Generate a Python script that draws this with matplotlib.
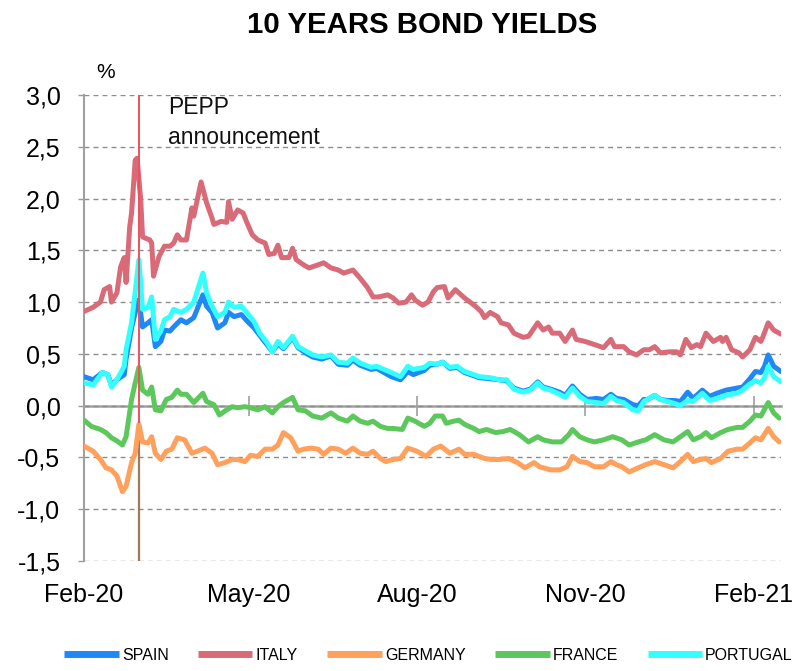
import numpy as np
import matplotlib
matplotlib.use("Agg")
import matplotlib.pyplot as plt
import matplotlib.dates as mdates

# ---------------- data (days since 2020-02-01, yield in %) ----------------
start_date = np.datetime64("2020-02-01")
pepp_day = 30

italy_days = [0, 5, 9, 11, 14, 15, 18, 20, 22, 23, 25, 26, 28, 29, 31, 32, 36, 37, 38, 41,
              44, 47, 49, 51, 53, 56, 59, 60, 64, 67, 70, 71, 75, 78, 79, 81, 84, 87, 89, 92,
              95, 99, 101, 104, 106, 108, 112, 114, 116, 120, 123, 128, 131, 135, 139, 142, 147, 151, 155, 158,
              161, 166, 169, 172, 176, 179, 181, 185, 188, 191, 193, 197, 199, 203, 208, 211, 214, 217, 219, 222,
              226, 228, 232, 235, 240, 243, 248, 251, 254, 256, 260, 263, 267, 269, 274, 279, 284, 288, 290, 295,
              298, 302, 306, 309, 312, 315, 320, 324, 326, 329, 332, 335, 337, 340, 344, 348, 349, 351, 354, 358,
              360, 364, 367, 370, 371, 374, 377, 381]
italy = [0.91, 0.95, 1.00, 1.12, 1.15, 1.00, 1.09, 1.34, 1.43, 1.19, 1.73, 1.86, 2.37, 2.39, 1.99, 1.63, 1.60, 1.57, 1.25, 1.44,
         1.54, 1.54, 1.57, 1.65, 1.60, 1.60, 1.91, 1.83, 2.16, 1.96, 1.81, 1.75, 1.78, 1.77, 1.97, 1.80, 1.89, 1.86, 1.77, 1.65,
         1.60, 1.57, 1.46, 1.47, 1.55, 1.43, 1.43, 1.52, 1.41, 1.36, 1.33, 1.36, 1.38, 1.33, 1.31, 1.28, 1.31, 1.23, 1.14, 1.05,
         1.05, 1.07, 1.04, 0.99, 1.00, 1.07, 1.02, 0.97, 1.00, 1.10, 1.14, 1.15, 1.04, 1.12, 1.04, 1.00, 0.96, 0.91, 0.85, 0.90,
         0.86, 0.80, 0.78, 0.70, 0.66, 0.67, 0.80, 0.73, 0.76, 0.70, 0.70, 0.62, 0.73, 0.64, 0.62, 0.59, 0.56, 0.64, 0.57, 0.57,
         0.52, 0.49, 0.54, 0.54, 0.57, 0.51, 0.52, 0.52, 0.49, 0.64, 0.56, 0.59, 0.57, 0.70, 0.62, 0.66, 0.62, 0.66, 0.54, 0.51,
         0.47, 0.54, 0.66, 0.62, 0.66, 0.80, 0.73, 0.69]

iberia_days = [0, 5, 10, 13, 15, 18, 22, 23, 26, 28, 30, 32, 35, 37, 39, 42, 44, 47, 49, 53,
               56, 60, 65, 67, 70, 73, 77, 79, 82, 86, 89, 93, 96, 100, 103, 106, 109, 114, 117, 122,
               125, 130, 135, 139, 144, 147, 151, 157, 160, 164, 168, 173, 177, 180, 186, 189, 193, 196, 200, 204,
               208, 213, 216, 222, 227, 231, 235, 240, 244, 248, 251, 255, 260, 263, 267, 271, 275, 280, 284, 288,
               291, 295, 300, 303, 306, 308, 312, 315, 319, 323, 326, 330, 333, 338, 342, 346, 351, 357, 360, 364,
               367, 370, 372, 374, 377, 381]
spain = [0.28, 0.25, 0.32, 0.30, 0.20, 0.25, 0.30, 0.45, 0.75, 0.90, 1.02, 0.76, 0.80, 0.83, 0.57, 0.62, 0.73, 0.72, 0.76, 0.83,
         0.80, 0.85, 1.07, 0.96, 0.90, 0.75, 0.80, 0.90, 0.86, 0.88, 0.82, 0.75, 0.68, 0.59, 0.52, 0.60, 0.55, 0.66, 0.56, 0.50,
         0.47, 0.45, 0.48, 0.40, 0.39, 0.44, 0.39, 0.35, 0.36, 0.32, 0.28, 0.25, 0.33, 0.30, 0.34, 0.39, 0.40, 0.42, 0.36, 0.37,
         0.32, 0.29, 0.27, 0.26, 0.25, 0.24, 0.17, 0.14, 0.16, 0.23, 0.18, 0.16, 0.13, 0.10, 0.19, 0.11, 0.06, 0.07, 0.06, 0.11,
         0.07, 0.06, 0.01, 0.00, 0.06, 0.06, 0.10, 0.06, 0.05, 0.05, 0.04, 0.13, 0.07, 0.15, 0.09, 0.12, 0.15, 0.17, 0.18, 0.26,
         0.33, 0.32, 0.38, 0.49, 0.38, 0.33]
portugal = [0.22, 0.20, 0.32, 0.30, 0.18, 0.25, 0.38, 0.54, 0.80, 1.10, 1.41, 0.93, 0.95, 1.05, 0.64, 0.72, 0.83, 0.86, 0.93, 0.90,
            0.93, 1.00, 1.28, 1.09, 0.96, 0.86, 0.90, 1.00, 0.95, 0.96, 0.90, 0.81, 0.70, 0.61, 0.52, 0.62, 0.56, 0.67, 0.57, 0.52,
            0.49, 0.47, 0.49, 0.42, 0.41, 0.46, 0.41, 0.37, 0.38, 0.35, 0.32, 0.28, 0.38, 0.35, 0.37, 0.41, 0.40, 0.42, 0.37, 0.38,
            0.33, 0.30, 0.28, 0.27, 0.25, 0.25, 0.16, 0.13, 0.15, 0.22, 0.17, 0.15, 0.11, 0.08, 0.17, 0.09, 0.04, 0.03, 0.02, 0.09,
            0.05, 0.03, -0.04, -0.05, 0.04, 0.06, 0.10, 0.06, 0.04, 0.02, 0.00, 0.05, 0.04, 0.12, 0.05, 0.07, 0.10, 0.12, 0.15, 0.21,
            0.24, 0.22, 0.27, 0.38, 0.28, 0.23]

france_days = [0, 4, 9, 12, 15, 18, 21, 23, 26, 28, 30, 32, 35, 37, 39, 42, 45, 48, 51, 53,
               56, 60, 65, 67, 71, 74, 78, 81, 84, 88, 91, 95, 99, 103, 106, 109, 114, 117, 121, 125,
               130, 135, 139, 144, 147, 151, 155, 158, 162, 166, 169, 174, 177, 181, 186, 189, 192, 196, 198, 202,
               205, 208, 213, 216, 220, 225, 229, 233, 238, 243, 248, 251, 256, 261, 265, 267, 271, 275, 279, 284,
               289, 294, 298, 303, 307, 312, 317, 322, 326, 330, 333, 337, 340, 343, 348, 352, 357, 360, 364, 367,
               370, 374, 377, 380]
france = [-0.14, -0.20, -0.23, -0.26, -0.31, -0.34, -0.38, -0.30, 0.06, 0.22, 0.37, 0.15, 0.11, 0.18, -0.04, -0.05, 0.06, 0.08, 0.15, 0.11,
          0.11, 0.03, 0.12, 0.04, 0.01, -0.09, -0.04, -0.01, -0.02, -0.01, -0.02, -0.04, -0.01, -0.07, -0.01, 0.03, 0.08, -0.04, -0.05, -0.10,
          -0.12, -0.07, -0.12, -0.15, -0.10, -0.15, -0.17, -0.15, -0.20, -0.22, -0.22, -0.23, -0.12, -0.15, -0.20, -0.17, -0.10, -0.10, -0.17, -0.15,
          -0.14, -0.18, -0.22, -0.25, -0.23, -0.26, -0.25, -0.23, -0.28, -0.35, -0.30, -0.33, -0.35, -0.35, -0.28, -0.23, -0.30, -0.33, -0.35, -0.33,
          -0.30, -0.33, -0.38, -0.35, -0.33, -0.28, -0.33, -0.35, -0.30, -0.25, -0.33, -0.30, -0.26, -0.31, -0.26, -0.23, -0.21, -0.21, -0.15, -0.09,
          -0.10, 0.03, -0.07, -0.12]

germany_days = [0, 5, 9, 12, 15, 18, 21, 23, 26, 28, 30, 32, 35, 37, 39, 42, 45, 48, 51, 55,
                59, 62, 66, 70, 73, 77, 81, 84, 88, 91, 95, 99, 103, 106, 109, 113, 117, 120, 124, 128,
                131, 135, 139, 143, 147, 151, 155, 158, 162, 165, 169, 173, 177, 182, 187, 191, 195, 200, 205, 208,
                213, 219, 223, 227, 232, 237, 241, 246, 249, 255, 260, 264, 267, 271, 275, 279, 284, 288, 291, 294,
                298, 303, 307, 312, 317, 322, 326, 330, 333, 337, 340, 343, 348, 352, 357, 360, 364, 367, 370, 374,
                377, 380]
germany = [-0.39, -0.44, -0.52, -0.60, -0.62, -0.68, -0.83, -0.78, -0.55, -0.46, -0.18, -0.35, -0.36, -0.30, -0.46, -0.52, -0.44, -0.42, -0.31, -0.33,
           -0.46, -0.44, -0.41, -0.46, -0.57, -0.55, -0.52, -0.52, -0.54, -0.48, -0.49, -0.42, -0.42, -0.38, -0.26, -0.31, -0.44, -0.42, -0.41, -0.42,
           -0.47, -0.41, -0.42, -0.46, -0.41, -0.46, -0.47, -0.44, -0.51, -0.54, -0.52, -0.51, -0.41, -0.44, -0.49, -0.42, -0.39, -0.46, -0.42, -0.47,
           -0.47, -0.51, -0.52, -0.52, -0.51, -0.55, -0.60, -0.55, -0.59, -0.62, -0.62, -0.59, -0.49, -0.54, -0.55, -0.59, -0.59, -0.54, -0.57, -0.59,
           -0.64, -0.60, -0.57, -0.54, -0.57, -0.60, -0.54, -0.47, -0.54, -0.52, -0.51, -0.55, -0.51, -0.44, -0.42, -0.42, -0.36, -0.31, -0.33, -0.22,
           -0.30, -0.35]

series_names = ["SPAIN", "ITALY", "GERMANY", "FRANCE", "PORTUGAL"]
series_colors = ["#1E88F5", "#D96B78", "#FFA05C", "#5CC85C", "#33FFFF"]

title_text = "10 YEARS BOND YIELDS"
y_ticks = [-1.5, -1.0, -0.5, 0.0, 0.5, 1.0, 1.5, 2.0, 2.5, 3.0]
annotation_text = "PEPP\nannouncement"

# ---------------- plot ----------------
plt.rcParams["font.family"] = ["Liberation Sans", "DejaVu Sans"]

def to_dates(days):
    return start_date + np.array(days, dtype="timedelta64[D]")

fig = plt.figure(figsize=(8.01, 6.71), dpi=100)
ax = fig.add_axes([84 / 801, 1 - 561 / 671, 697 / 801, 466 / 671])

data = {
    "SPAIN": (iberia_days, spain),
    "ITALY": (italy_days, italy),
    "GERMANY": (germany_days, germany),
    "FRANCE": (france_days, france),
    "PORTUGAL": (iberia_days, portugal),
}
lines = {}
for name, col in zip(series_names, series_colors):
    d, v = data[name]
    (ln,) = ax.plot(to_dates(d), v, color=col, lw=3.6, solid_joinstyle="round",
                    solid_capstyle="round", label=name, zorder=3)
    lines[name] = ln

# PEPP vertical marker
pepp = start_date + np.timedelta64(pepp_day, "D")
ax.axvline(pepp, ymin=(-0.16 + 1.5) / 4.5, ymax=1, color="#F0505F", lw=1.4, zorder=4)
ax.axvline(pepp, ymin=0, ymax=(-0.16 + 1.5) / 4.5, color="#A07A55", lw=1.6, zorder=2)
ax.text(start_date + np.timedelta64(pepp_day + 16, "D"), 2.99, annotation_text,
        fontsize=16.5, va="top", ha="left", linespacing=1.4, color="#111111")

ax.set_ylim(-1.5, 3.0)
ax.set_xlim(start_date, start_date + np.timedelta64(381, "D"))
ax.set_yticks(y_ticks)
ax.set_yticklabels([f"{t:.1f}".replace(".", ",") for t in y_ticks], fontsize=18)
ax.yaxis.grid(True, color="#8C8C8C", ls=(0, (3.5, 3)), lw=1.0)
ax.set_axisbelow(True)

ax.xaxis.set_major_locator(mdates.MonthLocator(bymonth=[2, 5, 8, 11]))
ax.xaxis.set_major_formatter(mdates.DateFormatter("%b-%y"))
ax.tick_params(axis="x", length=0, pad=16, labelsize=18)
ax.tick_params(axis="y", length=4, width=1, color="#999999", pad=13)

for s in ["top", "right", "bottom"]:
    ax.spines[s].set_visible(False)
ax.spines["left"].set_color("#A0A0A0")
ax.spines["left"].set_linewidth(1.5)

# zero axis with crossing ticks
sec = ax.secondary_xaxis(1.5 / 4.5)
sec.xaxis.set_major_locator(mdates.MonthLocator(bymonth=[2, 5, 8, 11]))
sec.tick_params(axis="x", direction="inout", length=14, width=1.2, color="#A0A0A0",
                labelbottom=False, labeltop=False)
sec.spines["bottom"].set_color("#A0A0A0")
sec.spines["bottom"].set_linewidth(1.8)
sec.spines["bottom"].set_zorder(1)

fig.text(422 / 801, 1 - 25 / 671, title_text, fontsize=21.2, fontweight="bold",
         ha="center", va="center")
fig.text(106 / 801, 1 - 72 / 671, "%", fontsize=15, ha="center", va="center")

fig.legend(handles=[lines[n] for n in series_names], labels=series_names,
           loc="lower center", bbox_to_anchor=(0.535, -0.004), ncol=5, frameon=False,
           handlelength=3.4, handletextpad=0.2, columnspacing=1.85, borderpad=0.2,
           prop={"size": 11.5})
for lh in fig.legends[0].get_lines():
    lh.set_linewidth(5)
    lh.set_solid_capstyle("butt")

fig.savefig("out.png", dpi=100)
